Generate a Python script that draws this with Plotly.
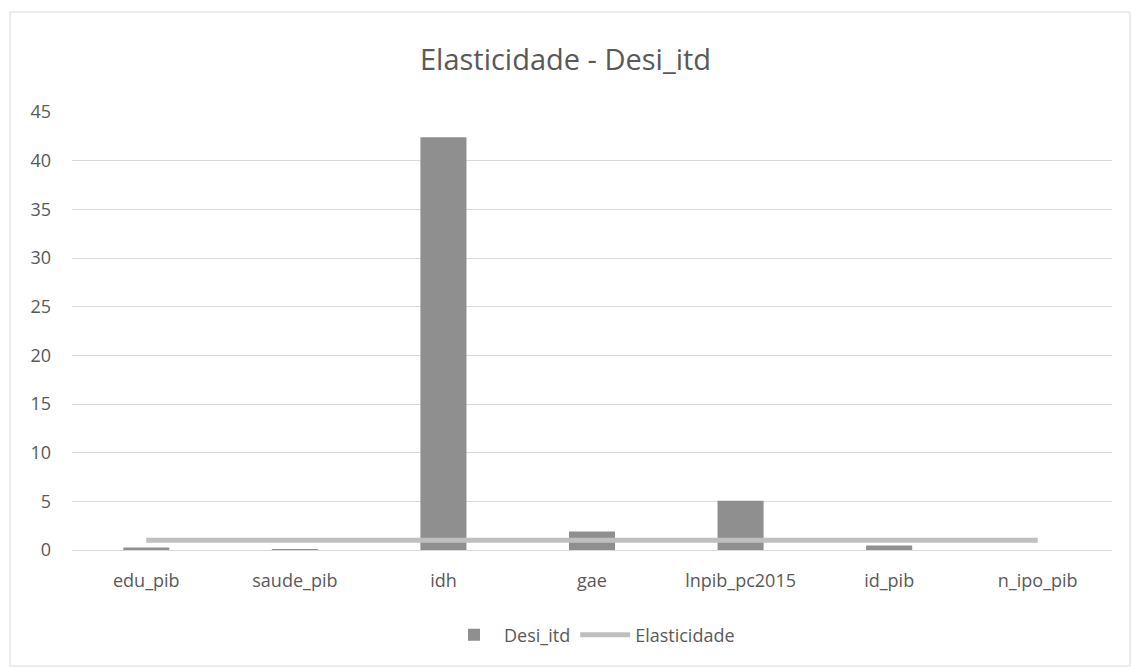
import plotly.graph_objects as go

categories = ["edu_pib", "saude_pib", "idh", "gae", "lnpib_pc2015", "id_pib", "n_ipo_pib"]
desi_itd = [0.25, 0.005, 42.4, 1.9, 5.05, 0.45, 0.0]
elasticidade = [1, 1, 1, 1, 1, 1, 1]
y_ticks = [0, 5, 10, 15, 20, 25, 30, 35, 40, 45]

W, H = 1131, 667
ml, mr, mt, mb = 72, 19, 112, 117
pw = W - ml - mr
ph = H - mt - mb

font = "Open Sans"
fig = go.Figure()
fig.add_trace(go.Bar(x=categories, y=desi_itd, name="Desi_itd",
                     marker=dict(color="#8f8f8f", line=dict(width=0)), width=0.31))
fig.add_trace(go.Scatter(x=categories, y=elasticidade, name="Elasticidade", mode="lines",
                         line=dict(color="#bfbfbf", width=5)))

def px_x(p):
    return (p - ml) / pw
def px_y(p):
    return (H - mb - p) / ph

fig.add_shape(type="rect", xref="paper", yref="paper",
              x0=px_x(10), x1=px_x(1130), y0=px_y(666), y1=px_y(12),
              line=dict(color="#d9d9d9", width=1), fillcolor="rgba(0,0,0,0)", layer="below")

fig.update_layout(
    width=W, height=H,
    margin=dict(l=ml, r=mr, t=mt, b=mb),
    paper_bgcolor="white", plot_bgcolor="white",
    title=dict(text="Elasticidade - Desi_itd", x=0.5, xanchor="center",
               y=1 - 60 / H, yanchor="middle",
               font=dict(family=font, size=29, color="#595959")),
    font=dict(family=font, size=18, color="#595959"),
    xaxis=dict(showgrid=False, showline=False, ticks="", ticklabelstandoff=18,
               tickfont=dict(size=18, color="#595959")),
    yaxis=dict(range=[0, 45], tickvals=y_ticks, showgrid=True, gridcolor="#d9d9d9", gridwidth=1,
               zeroline=True, zerolinecolor="#d9d9d9", zerolinewidth=1,
               showline=False, ticks="", ticklabelstandoff=20,
               tickfont=dict(size=18, color="#595959")),
    legend=dict(orientation="h", x=0.5, xanchor="center", y=px_y(635), yanchor="middle",
                font=dict(size=18, color="#595959"), itemwidth=50),
    showlegend=True,
)

fig.write_html("out.html")
